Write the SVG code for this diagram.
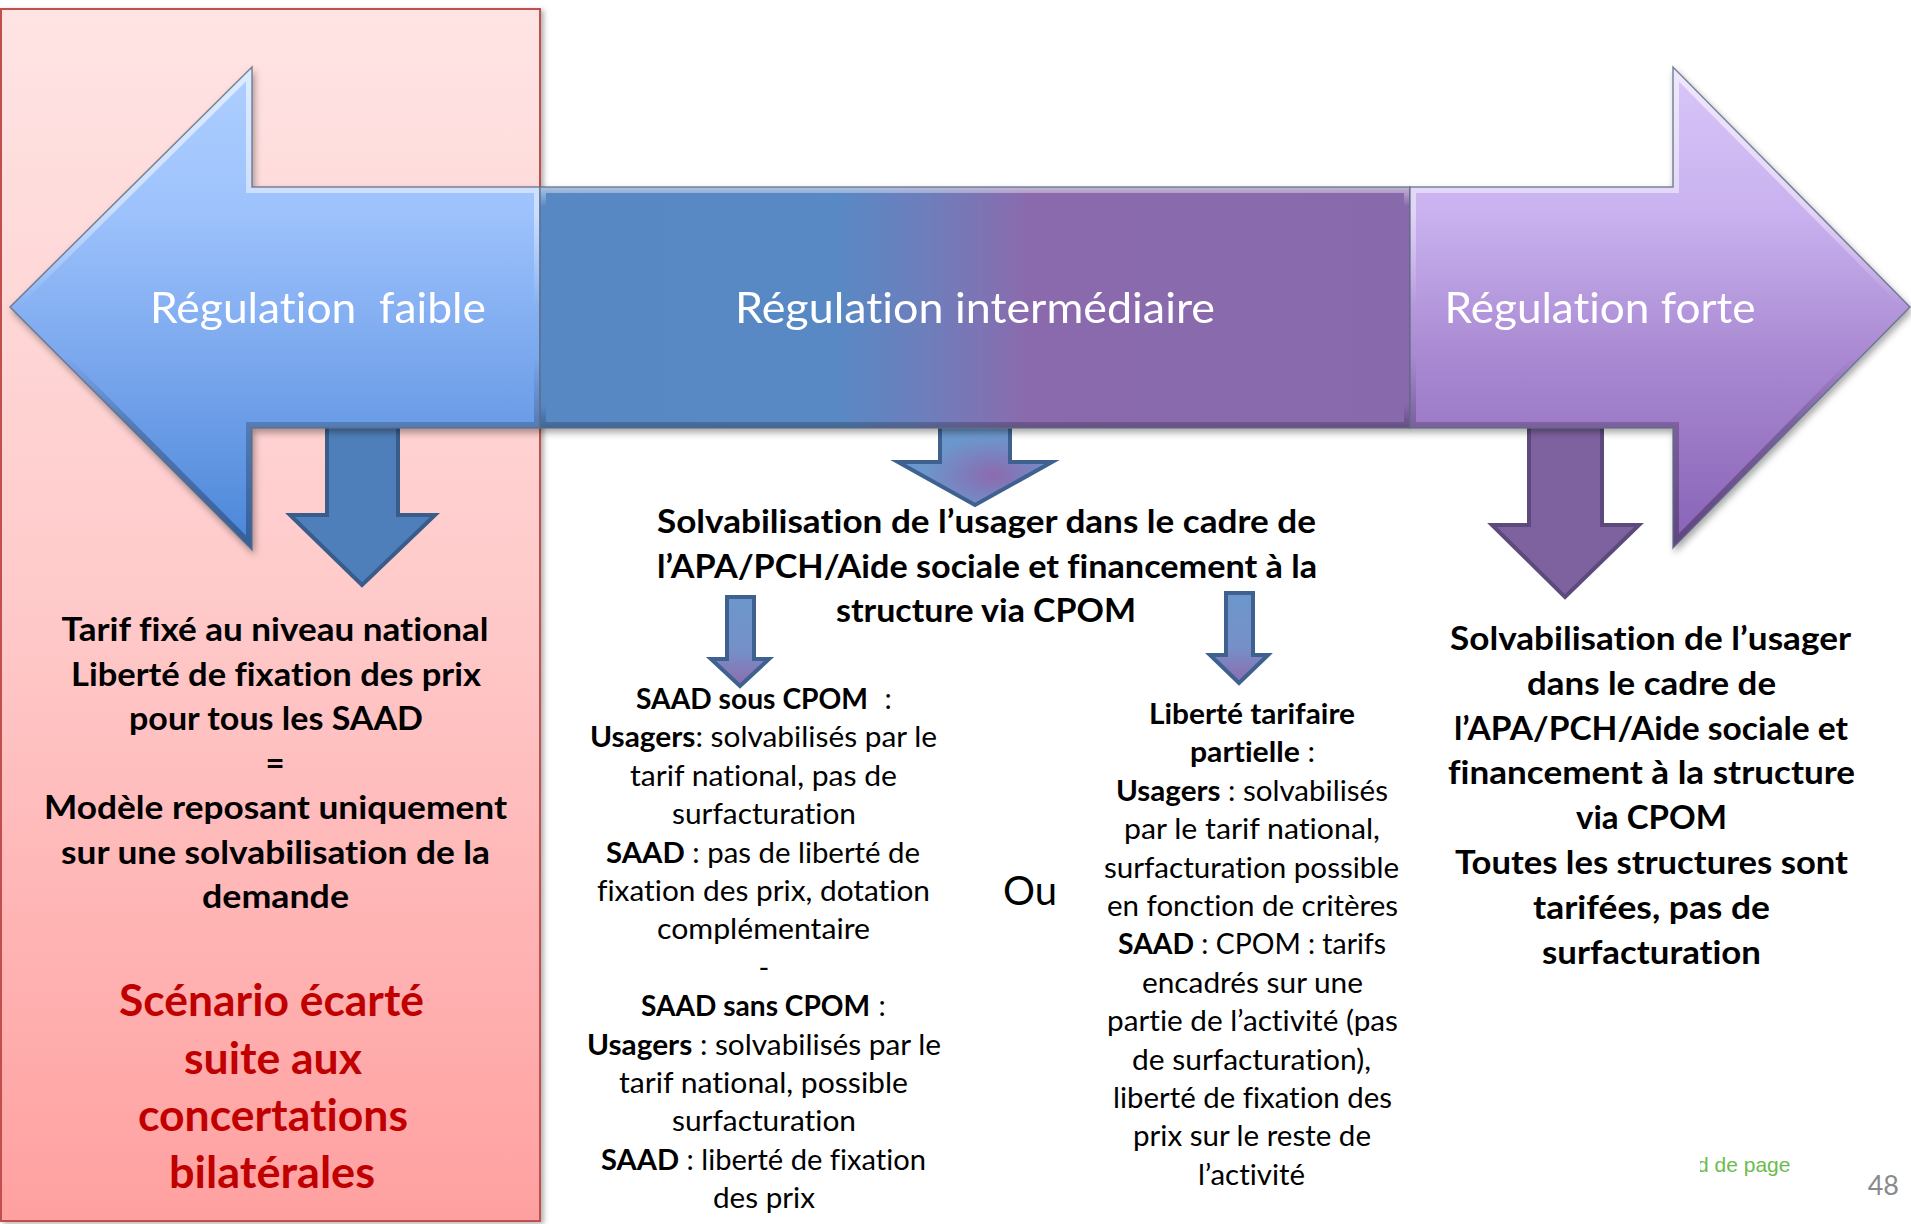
<svg xmlns="http://www.w3.org/2000/svg" width="1911" height="1224" viewBox="0 0 1911 1224">
<defs>
  <style>
    text{font-variant-ligatures:none}
    .hdr{font-family:Lato,'Open Sans',sans-serif;font-size:42px;fill:#ffffff;text-anchor:middle;white-space:pre}
    .bt{font-family:Lato,'Open Sans',sans-serif;font-size:33px;font-weight:700;fill:#000;text-anchor:middle}
    .red{font-family:Lato,'Open Sans',sans-serif;font-size:43px;font-weight:700;fill:#C00000;text-anchor:middle}
    .sm{font-family:Lato,'Open Sans',sans-serif;font-size:29px;fill:#000;text-anchor:middle;white-space:pre}
    .b{font-weight:700}
    .ou{font-family:Lato,'Open Sans',sans-serif;font-size:40px;fill:#000;text-anchor:middle}
    .foot{font-family:'Liberation Sans',Arial,sans-serif;font-size:21px;fill:#6DBB4F}
    .num{font-family:Lato,'Open Sans',sans-serif;font-size:27px;fill:#8A8A8A;text-anchor:end}
    .segline{fill:none;stroke:#5B6B82;stroke-width:1.5;stroke-opacity:0.8}
    .bevel{fill:none;stroke-width:12}
  </style>
  <linearGradient id="gRedBg" x1="0" y1="9" x2="0" y2="1221" gradientUnits="userSpaceOnUse">
    <stop offset="0" stop-color="#FFE4E4"/>
    <stop offset="0.5" stop-color="#FFC9C9"/>
    <stop offset="1" stop-color="#FFA0A0"/>
  </linearGradient>
  <linearGradient id="gL" x1="0" y1="67" x2="0" y2="550" gradientUnits="userSpaceOnUse">
    <stop offset="0" stop-color="#AECFFF"/>
    <stop offset="0.3" stop-color="#9DC2FC"/>
    <stop offset="0.6" stop-color="#7BA8EE"/>
    <stop offset="1" stop-color="#4A86D8"/>
  </linearGradient>
  <linearGradient id="gR" x1="0" y1="67" x2="0" y2="550" gradientUnits="userSpaceOnUse">
    <stop offset="0" stop-color="#D8C6F8"/>
    <stop offset="0.3" stop-color="#C9B2EF"/>
    <stop offset="0.6" stop-color="#A989D2"/>
    <stop offset="1" stop-color="#8762B6"/>
  </linearGradient>
  <linearGradient id="gM" x1="540" y1="0" x2="1410" y2="0" gradientUnits="userSpaceOnUse">
    <stop offset="0" stop-color="#5888C4"/>
    <stop offset="0.34" stop-color="#5889C4"/>
    <stop offset="0.45" stop-color="#6F7DBB"/>
    <stop offset="0.56" stop-color="#8A6BAD"/>
    <stop offset="1" stop-color="#8869AB"/>
  </linearGradient>
  <linearGradient id="gBevel" x1="0" y1="0" x2="0" y2="1">
    <stop offset="0" stop-color="#ffffff" stop-opacity="0.6"/>
    <stop offset="0.3" stop-color="#ffffff" stop-opacity="0.45"/>
    <stop offset="0.5" stop-color="#ffffff" stop-opacity="0"/>
    <stop offset="0.6" stop-color="#000000" stop-opacity="0"/>
    <stop offset="0.75" stop-color="#000000" stop-opacity="0.22"/>
    <stop offset="1" stop-color="#000000" stop-opacity="0.3"/>
  </linearGradient>
  <linearGradient id="gBevelM" x1="0" y1="0" x2="0" y2="1">
    <stop offset="0" stop-color="#ffffff" stop-opacity="0.5"/>
    <stop offset="0.08" stop-color="#ffffff" stop-opacity="0"/>
    <stop offset="0.9" stop-color="#000000" stop-opacity="0"/>
    <stop offset="1" stop-color="#000000" stop-opacity="0.25"/>
  </linearGradient>
  <radialGradient id="gMid" cx="0.62" cy="0.65" r="0.45">
    <stop offset="0" stop-color="#8D6AAE"/>
    <stop offset="0.5" stop-color="#7B80BE"/>
    <stop offset="1" stop-color="#6C97CC"/>
  </radialGradient>
  <linearGradient id="gSmall" x1="0" y1="0" x2="0" y2="1">
    <stop offset="0" stop-color="#6C97CC"/>
    <stop offset="0.6" stop-color="#7590C8"/>
    <stop offset="1" stop-color="#8C6CAF"/>
  </linearGradient>
  <clipPath id="cL"><path d="M10,307 L252,67 L252,187 L540,187 L540,428 L252,428 L252,550 Z"/></clipPath>
  <clipPath id="cR"><path d="M1410,187 L1673,187 L1673,67 L1910,307 L1673,548 L1673,428 L1410,428 Z"/></clipPath>
  <clipPath id="cM"><rect x="540" y="187" width="870" height="241"/></clipPath>
  <clipPath id="cFoot"><rect x="1700" y="1140" width="120" height="50"/></clipPath>
  <filter id="shadow" x="-5%" y="-5%" width="110%" height="115%">
    <feDropShadow dx="2" dy="4" stdDeviation="3.5" flood-color="#000" flood-opacity="0.35"/>
  </filter>
  <filter id="shadowRect" x="-5%" y="-2%" width="110%" height="104%">
    <feDropShadow dx="3" dy="2" stdDeviation="2.5" flood-color="#000" flood-opacity="0.3"/>
  </filter>
</defs>

<rect width="1911" height="1224" fill="#ffffff"/>

<!-- left panel (scenario écarté) -->
<g id="panel-faible">
  <rect x="1" y="9" width="539" height="1212" fill="url(#gRedBg)" stroke="#C0504D" stroke-width="2" filter="url(#shadowRect)"/>
</g>

<!-- connectors: down arrows -->
<g id="connectors">
  <path d="M327,420 L398,420 L398,515 L435,515 L362,585 L290,515 L327,515 Z" fill="#4F7FBA" stroke="#385D8A" stroke-width="4" stroke-linejoin="miter"/>
  <path d="M940,420 L1010,420 L1010,462 L1052,462 L975,505 L898,462 L940,462 Z" fill="url(#gMid)" stroke="#3E6190" stroke-width="4"/>
  <path d="M1529,420 L1602,420 L1602,525 L1639,525 L1565,597 L1492,525 L1529,525 Z" fill="#7E62A0" stroke="#5D4A7C" stroke-width="4"/>
  <path d="M727,597 L754,597 L754,659 L769,659 L740,686 L711,659 L727,659 Z" fill="url(#gSmall)" stroke="#3E6190" stroke-width="4"/>
  <path d="M1226,593 L1253,593 L1253,655 L1268,655 L1239,683 L1210,655 L1226,655 Z" fill="url(#gSmall)" stroke="#3E6190" stroke-width="4"/>
</g>

<!-- big double arrow -->
<g id="arrow-regulation" filter="url(#shadow)">
  <g id="seg-faible">
    <path d="M10,307 L252,67 L252,187 L540,187 L540,428 L252,428 L252,550 Z" fill="url(#gL)"/>
    <path d="M10,307 L252,67 L252,187 L540,187 L540,428 L252,428 L252,550 Z" class="bevel" stroke="url(#gBevel)" clip-path="url(#cL)"/>
    <path d="M10,307 L252,67 L252,187 L540,187 L540,428 L252,428 L252,550 Z" class="segline"/>
    <text class="hdr" x="318" y="323" textLength="336" lengthAdjust="spacingAndGlyphs">Régulation  faible</text>
  </g>
  <g id="seg-intermediaire">
    <rect x="540" y="187" width="870" height="241" fill="url(#gM)"/>
    <rect x="540" y="187" width="870" height="241" class="bevel" stroke="url(#gBevelM)" clip-path="url(#cM)"/>
    <rect x="540" y="187" width="870" height="241" class="segline"/>
    <text class="hdr" x="975" y="323" textLength="480" lengthAdjust="spacingAndGlyphs">Régulation intermédiaire</text>
  </g>
  <g id="seg-forte">
    <path d="M1410,187 L1673,187 L1673,67 L1910,307 L1673,548 L1673,428 L1410,428 Z" fill="url(#gR)"/>
    <path d="M1410,187 L1673,187 L1673,67 L1910,307 L1673,548 L1673,428 L1410,428 Z" class="bevel" stroke="url(#gBevel)" clip-path="url(#cR)"/>
    <path d="M1410,187 L1673,187 L1673,67 L1910,307 L1673,548 L1673,428 L1410,428 Z" class="segline"/>
    <text class="hdr" x="1600" y="323" textLength="311" lengthAdjust="spacingAndGlyphs">Régulation forte</text>
  </g>
</g>

<!-- left text -->
<g id="text-faible">
  <text class="bt" x="275" y="641" textLength="427" lengthAdjust="spacingAndGlyphs">Tarif fixé au niveau national</text>
  <text class="bt" x="276" y="685.5" textLength="410" lengthAdjust="spacingAndGlyphs">Liberté de fixation des prix</text>
  <text class="bt" x="276" y="730" textLength="294" lengthAdjust="spacingAndGlyphs">pour tous les SAAD</text>
  <text class="bt" x="275" y="774.5">=</text>
  <text class="bt" x="275.5" y="819" textLength="463" lengthAdjust="spacingAndGlyphs">Modèle reposant uniquement</text>
  <text class="bt" x="275.5" y="863.5" textLength="429" lengthAdjust="spacingAndGlyphs">sur une solvabilisation de la</text>
  <text class="bt" x="275.5" y="908" textLength="147" lengthAdjust="spacingAndGlyphs">demande</text>
  <text class="red" x="271.5" y="1016" textLength="305" lengthAdjust="spacingAndGlyphs">Scénario écarté</text>
  <text class="red" x="273" y="1074" textLength="178" lengthAdjust="spacingAndGlyphs">suite aux</text>
  <text class="red" x="273" y="1131" textLength="270" lengthAdjust="spacingAndGlyphs">concertations</text>
  <text class="red" x="272" y="1188" textLength="206" lengthAdjust="spacingAndGlyphs">bilatérales</text>
</g>

<!-- middle heading -->
<g id="text-intermediaire">
  <text class="bt" x="986.5" y="533" textLength="659" lengthAdjust="spacingAndGlyphs">Solvabilisation de l’usager dans le cadre de</text>
  <text class="bt" x="987" y="578" textLength="660" lengthAdjust="spacingAndGlyphs">l’APA/PCH/Aide sociale et financement à la</text>
  <text class="bt" x="986" y="622" textLength="300" lengthAdjust="spacingAndGlyphs">structure via CPOM</text>
</g>

<!-- option 1 -->
<g id="text-saad-cpom">
  <text class="sm b" x="752" y="709" textLength="232" lengthAdjust="spacingAndGlyphs">SAAD sous CPOM</text>
  <text class="sm" x="888" y="709">:</text>
  <text class="sm" x="763.5" y="747.4" textLength="347" lengthAdjust="spacingAndGlyphs"><tspan class="b">Usagers</tspan>: solvabilisés par le</text>
  <text class="sm" x="763.5" y="785.8" textLength="267" lengthAdjust="spacingAndGlyphs">tarif national, pas de</text>
  <text class="sm" x="764" y="824.2" textLength="184" lengthAdjust="spacingAndGlyphs">surfacturation</text>
  <text class="sm" x="763" y="862.6" textLength="314" lengthAdjust="spacingAndGlyphs"><tspan class="b">SAAD</tspan> : pas de liberté de</text>
  <text class="sm" x="763.5" y="901" textLength="333" lengthAdjust="spacingAndGlyphs">fixation des prix, dotation</text>
  <text class="sm" x="763.5" y="939.4" textLength="213" lengthAdjust="spacingAndGlyphs">complémentaire</text>
  <text class="sm" x="764" y="977.8">-</text>
  <text class="sm b" x="755.5" y="1016.2" textLength="229" lengthAdjust="spacingAndGlyphs">SAAD sans CPOM</text>
  <text class="sm" x="882" y="1016.2">:</text>
  <text class="sm" x="764" y="1054.6" textLength="354" lengthAdjust="spacingAndGlyphs"><tspan class="b">Usagers</tspan> : solvabilisés par le</text>
  <text class="sm" x="763.5" y="1093" textLength="289" lengthAdjust="spacingAndGlyphs">tarif national, possible</text>
  <text class="sm" x="764" y="1131.4" textLength="184" lengthAdjust="spacingAndGlyphs">surfacturation</text>
  <text class="sm" x="763.5" y="1169.8" textLength="325" lengthAdjust="spacingAndGlyphs"><tspan class="b">SAAD</tspan> : liberté de fixation</text>
  <text class="sm" x="764" y="1208.2" textLength="102" lengthAdjust="spacingAndGlyphs">des prix</text>
</g>

<text class="ou" x="1030" y="905">Ou</text>

<!-- option 2 -->
<g id="text-liberte-partielle">
  <text class="sm b" x="1252" y="724" textLength="206" lengthAdjust="spacingAndGlyphs">Liberté tarifaire</text>
  <text class="sm" x="1252.5" y="762.4" textLength="125" lengthAdjust="spacingAndGlyphs"><tspan class="b">partielle</tspan> :</text>
  <text class="sm" x="1252" y="800.8" textLength="272" lengthAdjust="spacingAndGlyphs"><tspan class="b">Usagers</tspan> : solvabilisés</text>
  <text class="sm" x="1252" y="839.2" textLength="256" lengthAdjust="spacingAndGlyphs">par le tarif national,</text>
  <text class="sm" x="1251.5" y="877.6" textLength="295" lengthAdjust="spacingAndGlyphs">surfacturation possible</text>
  <text class="sm" x="1252.5" y="916" textLength="291" lengthAdjust="spacingAndGlyphs">en fonction de critères</text>
  <text class="sm" x="1252" y="954.4" textLength="268" lengthAdjust="spacingAndGlyphs"><tspan class="b">SAAD</tspan> : CPOM : tarifs</text>
  <text class="sm" x="1252.5" y="992.8" textLength="221" lengthAdjust="spacingAndGlyphs">encadrés sur une</text>
  <text class="sm" x="1252.5" y="1031.2" textLength="291" lengthAdjust="spacingAndGlyphs">partie de l’activité (pas</text>
  <text class="sm" x="1251.5" y="1069.6" textLength="239" lengthAdjust="spacingAndGlyphs">de surfacturation),</text>
  <text class="sm" x="1252.5" y="1108" textLength="279" lengthAdjust="spacingAndGlyphs">liberté de fixation des</text>
  <text class="sm" x="1252" y="1146.4" textLength="238" lengthAdjust="spacingAndGlyphs">prix sur le reste de</text>
  <text class="sm" x="1251.5" y="1184.8" textLength="107" lengthAdjust="spacingAndGlyphs">l’activité</text>
</g>

<!-- right text -->
<g id="text-forte">
  <text class="bt" x="1650.5" y="650" textLength="401" lengthAdjust="spacingAndGlyphs">Solvabilisation de l’usager</text>
  <text class="bt" x="1651.5" y="694.8" textLength="249" lengthAdjust="spacingAndGlyphs">dans le cadre de</text>
  <text class="bt" x="1651" y="739.6" textLength="394" lengthAdjust="spacingAndGlyphs">l’APA/PCH/Aide sociale et</text>
  <text class="bt" x="1651.5" y="784.4" textLength="407" lengthAdjust="spacingAndGlyphs">financement à la structure</text>
  <text class="bt" x="1651.5" y="829.2" textLength="151" lengthAdjust="spacingAndGlyphs">via CPOM</text>
  <text class="bt" x="1651.5" y="874" textLength="393" lengthAdjust="spacingAndGlyphs">Toutes les structures sont</text>
  <text class="bt" x="1651.5" y="918.8" textLength="237" lengthAdjust="spacingAndGlyphs">tarifées, pas de</text>
  <text class="bt" x="1651.5" y="963.6" textLength="219" lengthAdjust="spacingAndGlyphs">surfacturation</text>
</g>

<!-- footer -->
<g id="footer">
  <text class="foot" x="1697" y="1172" clip-path="url(#cFoot)">d de page</text>
  <text class="num" x="1899" y="1195">48</text>
</g>
</svg>
